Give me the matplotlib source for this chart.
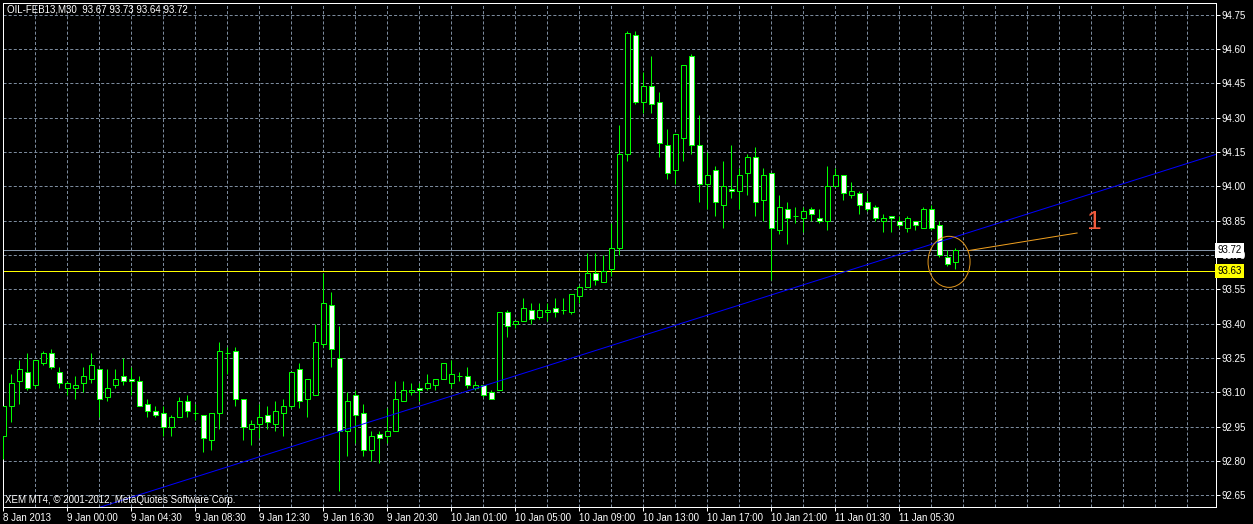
import matplotlib
matplotlib.use('Agg')
import matplotlib.pyplot as plt
from matplotlib.patches import Ellipse
import numpy as np

plt.rcParams['font.family'] = ['Liberation Sans', 'DejaVu Sans']
plt.rcParams['lines.scale_dashes'] = False

# OIL-FEB13, M30 candles
opens = [92.91, 93.04, 93.15, 93.19, 93.13, 93.23, 93.27, 93.19, 93.12, 93.12,
         93.14, 93.16, 93.20, 93.08, 93.13, 93.17, 93.16, 93.15, 93.05, 93.02,
         93.01, 92.95, 92.99, 93.06, 93.01, 93.00, 92.89, 93.01, 93.27, 93.28,
         93.07, 92.94, 92.96, 93.00, 92.96, 93.01, 93.04, 93.20, 93.07, 93.09,
         93.31, 93.48, 93.25, 92.93, 93.09, 93.01, 92.85, 92.92, 92.91, 92.93,
         93.06, 93.10, 93.12, 93.12, 93.13, 93.16, 93.14, 93.17, 93.17, 93.12,
         93.13, 93.10, 93.11, 93.45, 93.40, 93.41, 93.46, 93.43, 93.45, 93.47,
         93.46, 93.45, 93.52, 93.56, 93.62, 93.58, 93.64, 93.73, 94.14, 94.66,
         94.37, 94.44, 94.37, 94.18, 94.07, 94.21, 94.57, 94.18, 94.01, 94.07,
         93.92, 93.99, 93.98, 94.06, 94.13, 93.94, 94.06, 93.81, 93.90, 93.87,
         93.86, 93.90, 93.86, 93.85, 94.00, 94.05, 93.96, 93.97, 93.93, 93.91,
         93.85, 93.87, 93.85, 93.82, 93.85, 93.82, 93.90, 93.83, 93.69, 93.67]
highs = [93.04, 93.18, 93.24, 93.27, 93.24, 93.28, 93.29, 93.21, 93.15, 93.17,
         93.21, 93.27, 93.20, 93.20, 93.20, 93.25, 93.21, 93.17, 93.07, 93.04,
         93.04, 93.00, 93.08, 93.09, 93.05, 93.00, 93.01, 93.32, 93.30, 93.30,
         93.07, 92.98, 93.05, 93.04, 93.06, 93.07, 93.19, 93.23, 93.16, 93.40,
         93.62, 93.54, 93.39, 93.10, 93.11, 93.05, 92.93, 92.93, 93.03, 93.15,
         93.15, 93.14, 93.14, 93.18, 93.16, 93.23, 93.24, 93.19, 93.21, 93.15,
         93.13, 93.11, 93.45, 93.46, 93.41, 93.51, 93.49, 93.49, 93.49, 93.51,
         93.51, 93.53, 93.57, 93.71, 93.71, 93.70, 93.84, 94.27, 94.68, 94.68,
         94.50, 94.57, 94.41, 94.25, 94.23, 94.53, 94.58, 94.31, 94.15, 94.09,
         94.11, 94.18, 94.08, 94.14, 94.17, 94.08, 94.06, 93.96, 93.93, 93.91,
         93.91, 93.91, 93.90, 94.09, 94.08, 94.05, 94.02, 93.98, 93.97, 93.92,
         93.88, 93.87, 93.87, 93.87, 93.85, 93.91, 93.92, 93.85, 93.72, 93.73]
lows = [92.81, 92.97, 93.05, 93.11, 93.12, 93.22, 93.20, 93.12, 93.09, 93.07,
        93.10, 93.14, 92.99, 93.06, 93.12, 93.13, 93.09, 93.04, 92.99, 92.99,
        92.91, 92.91, 92.99, 92.99, 92.98, 92.84, 92.85, 92.94, 93.18, 93.04,
        92.89, 92.87, 92.90, 92.94, 92.93, 92.91, 93.03, 93.03, 92.99, 93.09,
        93.30, 93.21, 92.67, 92.82, 92.88, 92.82, 92.80, 92.79, 92.88, 92.93,
        93.06, 93.09, 93.06, 93.11, 93.11, 93.16, 93.12, 93.15, 93.12, 93.11,
        93.08, 93.07, 93.11, 93.34, 93.38, 93.41, 93.40, 93.42, 93.41, 93.43,
        93.44, 93.44, 93.49, 93.56, 93.57, 93.58, 93.61, 93.70, 94.11, 94.36,
        94.32, 94.32, 94.13, 94.03, 94.01, 94.11, 94.14, 93.93, 93.90, 93.87,
        93.82, 93.95, 93.90, 93.96, 93.87, 93.85, 93.59, 93.79, 93.75, 93.84,
        93.80, 93.85, 93.84, 93.81, 94.00, 93.94, 93.95, 93.88, 93.89, 93.85,
        93.80, 93.80, 93.82, 93.80, 93.81, 93.82, 93.81, 93.69, 93.65, 93.64]
closes = [93.04, 93.14, 93.20, 93.12, 93.24, 93.27, 93.21, 93.14, 93.14, 93.13,
          93.17, 93.22, 93.07, 93.12, 93.16, 93.15, 93.15, 93.04, 93.02, 93.00,
          92.95, 92.99, 93.06, 93.02, 93.01, 92.90, 93.01, 93.28, 93.27, 93.07,
          92.95, 92.96, 92.99, 92.97, 93.02, 93.04, 93.19, 93.06, 93.16, 93.32,
          93.49, 93.29, 92.93, 93.06, 93.00, 92.85, 92.91, 92.90, 92.93, 93.07,
          93.11, 93.11, 93.11, 93.14, 93.16, 93.23, 93.18, 93.17, 93.13, 93.13,
          93.09, 93.07, 93.45, 93.39, 93.41, 93.47, 93.42, 93.46, 93.46, 93.45,
          93.46, 93.53, 93.56, 93.62, 93.59, 93.63, 93.73, 94.14, 94.67, 94.37,
          94.44, 94.36, 94.19, 94.06, 94.23, 94.53, 94.18, 94.01, 94.05, 93.93,
          94.00, 93.98, 94.05, 94.13, 93.93, 94.05, 93.82, 93.91, 93.86, 93.87,
          93.89, 93.88, 93.85, 94.00, 94.05, 93.97, 93.98, 93.92, 93.90, 93.86,
          93.86, 93.86, 93.83, 93.86, 93.83, 93.90, 93.82, 93.70, 93.66, 93.72]

time_label_bars = [0, 8, 16, 24, 32, 40, 48, 56, 64, 72, 80, 88, 96, 104, 112]
time_labels = ['8 Jan 2013', '9 Jan 00:00', '9 Jan 04:30', '9 Jan 08:30',
               '9 Jan 12:30', '9 Jan 16:30', '9 Jan 20:30', '10 Jan 01:00',
               '10 Jan 05:00', '10 Jan 09:00', '10 Jan 13:00', '10 Jan 17:00',
               '10 Jan 21:00', '11 Jan 01:30', '11 Jan 05:30']
price_ticks = [92.65, 92.80, 92.95, 93.10, 93.25, 93.40, 93.55, 93.70,
               93.85, 94.00, 94.15, 94.30, 94.45, 94.60, 94.75]

ask_price = 93.72
level_price = 93.63
trend_bars = [34.6, 142.1]
trend_prices = [92.847, 94.035]
circle_bar, circle_price = 118.2, 93.67
arrow_bars = [120.6, 134.2]
arrow_prices = [93.719, 93.796]
mark_bar, mark_price = 136.3, 93.844

GREEN = '#00FF00'
GRID = '#7B8A9C'
PX = 0.72  # one pixel in points at dpi 100

fig = plt.figure(figsize=(12.53, 5.24), dpi=100, facecolor='black')
ax = fig.add_axes([2.5 / 1253, 17 / 524, 1213 / 1253, 504.5 / 524])
ax.set_facecolor('black')

x = np.arange(len(opens))
o = np.array(opens)
c = np.array(closes)
fills = np.where(c > o, 'black', 'white')

ax.vlines(x, lows, highs, colors=GREEN, linewidth=PX, zorder=3, snap=True)
ax.bar(x, np.abs(c - o), bottom=np.minimum(o, c), width=0.55, color=fills,
       edgecolor=GREEN, linewidth=PX, zorder=4, snap=True)

ax.set_xlim(-0.1, 151.5)
ax.set_ylim(92.599, 94.803)

# grid
ax.set_xticks(time_label_bars)
ax.set_xticklabels(time_labels)
ax.set_xticks(np.arange(4, 152, 4), minor=True)
ax.set_yticks(price_ticks)
ax.set_yticklabels(['%.2f' % p for p in price_ticks])
ax.grid(True, which='both', axis='x', color=GRID, linestyle=(0, (2.2, 1.5)),
        linewidth=PX, zorder=1)
ax.grid(True, which='major', axis='y', color=GRID, linestyle=(0, (2.2, 1.5)),
        linewidth=PX, zorder=1)
ax.set_axisbelow(True)

ax.yaxis.tick_right()
ax.tick_params(axis='y', colors='white', labelsize=7, length=3, width=PX, pad=1.5)
ax.tick_params(axis='x', which='major', colors='white', labelsize=7, length=3,
               width=PX, pad=1)
ax.tick_params(axis='x', which='minor', length=0)
for t in ax.get_xticklabels():
    t.set_horizontalalignment('left')
for s in ax.spines.values():
    s.set_color('white')
    s.set_linewidth(PX)

# horizontal price lines
ax.axhline(ask_price, color='#8595A8', linewidth=PX, zorder=2)
ax.axhline(level_price, color='#FFFF00', linewidth=PX, zorder=2)

# trend line
ax.axline((trend_bars[0], trend_prices[0]), (trend_bars[1], trend_prices[1]),
          color='#0000FF', linewidth=PX, zorder=5)

# circle, arrow line and label
ax.add_patch(Ellipse((circle_bar, circle_price), 5.25, 0.223, fill=False,
                     edgecolor='#E0961E', linewidth=PX, zorder=6))
ax.plot(arrow_bars, arrow_prices, color='#F0A020', linewidth=PX, zorder=6)
ax.text(mark_bar, mark_price, '1', color='#F05A3C', fontsize=19,
        ha='center', va='center', zorder=6)

# price labels on the axis
yt = ax.get_yaxis_transform()
ax.text(1 + 2 / 1213, ask_price, '93.72', transform=yt, color='black', fontsize=7,
        ha='left', va='center', zorder=10, clip_on=False,
        bbox=dict(boxstyle='square,pad=0.22', fc='white', ec='none'))
ax.text(1 + 2 / 1213, level_price, '93.63', transform=yt, color='black', fontsize=7,
        ha='left', va='center', zorder=10, clip_on=False,
        bbox=dict(boxstyle='square,pad=0.22', fc='#FFFF00', ec='none'))

ax.text(4.5 / 1213, 1 - 7.5 / 504.5, 'OIL-FEB13,M30  93.67 93.73 93.64 93.72',
        transform=ax.transAxes, color='white', fontsize=7, ha='left', va='center')
ax.text(2.5 / 1213, 7 / 504.5, 'XEM MT4, \u00a9 2001-2012, MetaQuotes Software Corp.',
        transform=ax.transAxes, color='white', fontsize=7, ha='left', va='center',
        zorder=7)

fig.savefig('out.png', dpi=100, facecolor='black')
